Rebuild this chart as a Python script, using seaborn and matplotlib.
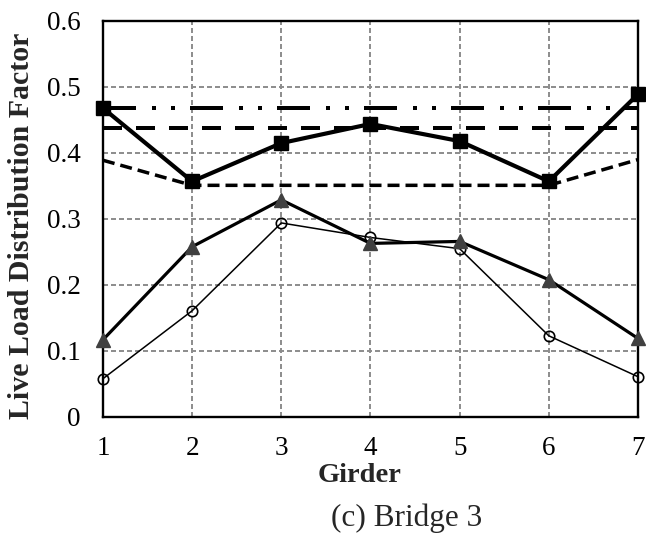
import matplotlib
matplotlib.use("Agg")
import matplotlib.pyplot as plt
import seaborn as sns
from matplotlib.ticker import MultipleLocator

# Girder numbers and live load distribution factors
girders = [1, 2, 3, 4, 5, 6, 7]
lldf_squares = [0.468, 0.357, 0.415, 0.444, 0.418, 0.357, 0.489]
lldf_triangles = [0.117, 0.258, 0.329, 0.263, 0.266, 0.208, 0.119]
lldf_circles = [0.058, 0.161, 0.294, 0.272, 0.255, 0.123, 0.061]
lldf_dashdot = [0.468, 0.468, 0.468, 0.468, 0.468, 0.468, 0.468]
lldf_dashed = [0.438, 0.438, 0.438, 0.438, 0.438, 0.438, 0.438]
lldf_shortdash = [0.389, 0.351, 0.351, 0.351, 0.351, 0.351, 0.390]

y_ticks = [0, 0.1, 0.2, 0.3, 0.4, 0.5, 0.6]
y_tick_labels = ["0", "0.1", "0.2", "0.3", "0.4", "0.5", "0.6"]

sns.set_style("white")
plt.rcParams["font.family"] = ["Liberation Serif", "DejaVu Serif"]
plt.rcParams["lines.scale_dashes"] = False

PX = 0.72  # points per pixel at 100 dpi

fig = plt.figure(figsize=(6.46, 5.37), dpi=100)
ax = fig.add_axes([0.1594, 0.2235, 0.8282, 0.7374])

# Reference (code) lines
l = sns.lineplot(x=girders, y=lldf_dashdot, color="black", linewidth=4 * PX, ax=ax).lines[-1]
l.set_dashes((33 * PX, 16 * PX, 4 * PX, 15 * PX, 4 * PX, 15 * PX))
l = sns.lineplot(x=girders, y=lldf_dashed, color="black", linewidth=4 * PX, ax=ax).lines[-1]
l.set_dashes((19 * PX, 14 * PX))
l = sns.lineplot(x=girders, y=lldf_shortdash, color="black", linewidth=3.5 * PX, ax=ax).lines[-1]
l.set_dashes((12 * PX, 6 * PX))

# Computed distribution factors
sns.lineplot(x=girders, y=lldf_circles, color="black", linewidth=1.1,
             marker="o", markersize=7.5, markerfacecolor="none",
             markeredgecolor="black", markeredgewidth=1.2, ax=ax, clip_on=False, zorder=4)
sns.lineplot(x=girders, y=lldf_triangles, color="black", linewidth=2.3,
             marker="^", markersize=10, markerfacecolor="#404040",
             markeredgecolor="#404040", markeredgewidth=1, ax=ax, clip_on=False, zorder=5)
sns.lineplot(x=girders, y=lldf_squares, color="black", linewidth=3.0,
             marker="s", markersize=10, markerfacecolor="black",
             markeredgecolor="black", markeredgewidth=1, ax=ax, clip_on=False, zorder=6)

ax.set_xlim(1, 7)
ax.set_ylim(0, 0.6)
ax.set_xticks(girders)
ax.set_xticklabels([str(g) for g in girders])
ax.set_yticks(y_ticks)
ax.set_yticklabels(y_tick_labels)
ax.yaxis.set_minor_locator(MultipleLocator(0.05))

ax.grid(True, which="major", color="#8c8c8c", linestyle=(0, (5 * PX, 3 * PX)), linewidth=1.4)
ax.set_axisbelow(True)

for s in ax.spines.values():
    s.set_visible(True)
    s.set_color("black")
    s.set_linewidth(1.7)

ax.tick_params(axis="both", which="major", direction="in", length=5, width=1.5,
               labelsize=19.5, colors="black", pad=16)
ax.tick_params(axis="y", which="minor", direction="in", length=5, width=1.5)
ax.tick_params(axis="x", which="major", pad=14)
ax.tick_params(top=False, right=False, which="both")

ax.set_xlabel("Girder", fontsize=20.5, fontweight="bold", va="center")
ax.xaxis.set_label_coords(0.48, -0.149)
ax.set_ylabel("Live Load Distribution Factor", fontsize=21.5, fontweight="bold", va="center")
ax.yaxis.set_label_coords(-0.152, 0.482)

fig.text(407 / 646, 1 - 518 / 537, "(c) Bridge 3", fontsize=22.5, ha="center", va="center")

fig.savefig("out.png", dpi=100)
